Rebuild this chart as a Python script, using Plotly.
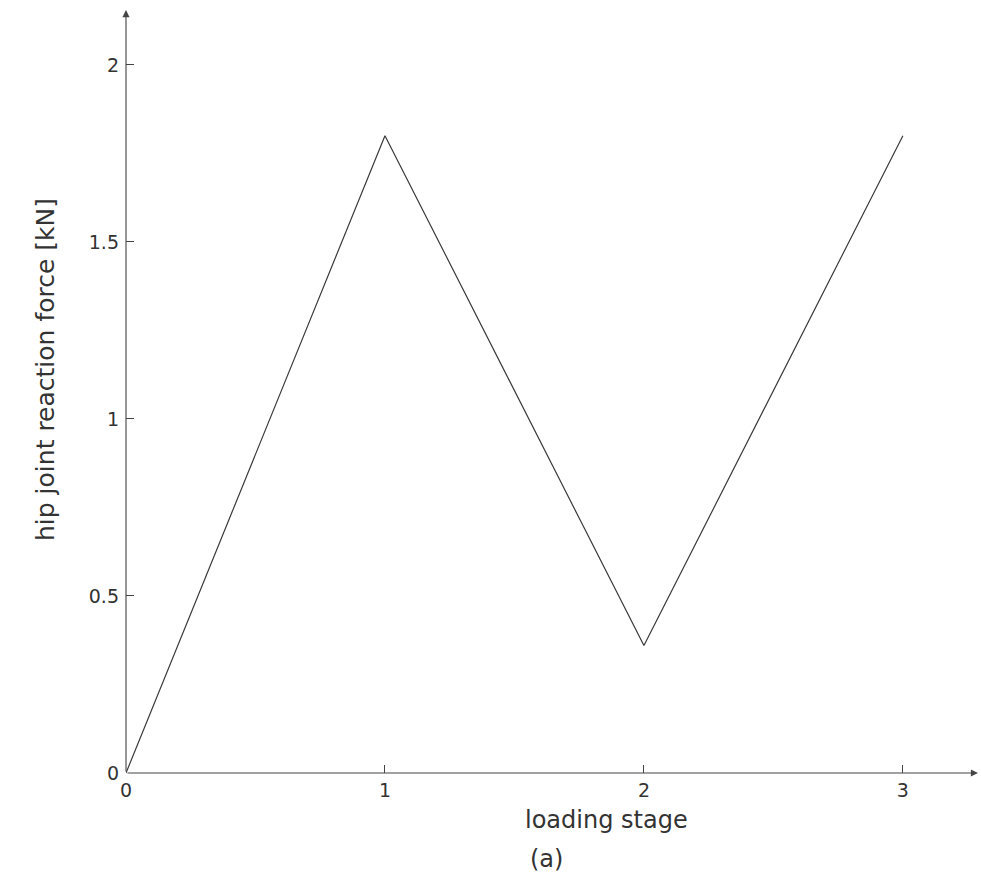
import plotly.graph_objects as go

stage = [0, 1, 2, 3]
force = [0, 1.8, 0.36, 1.8]
xticks = [0, 1, 2, 3]
yticks = [0, 0.5, 1, 1.5, 2]
ytick_text = ["0", "0.5", "1", "1.5", "2"]

XMAX = 3.29
YMAX = 2.155
axis_color = "#444444"
font_color = "#333333"
FONT = "DejaVu Sans"

fig = go.Figure()
fig.add_trace(go.Scatter(x=stage, y=force, mode="lines",
                         line=dict(color="#3a3a3a", width=1.2),
                         showlegend=False, hoverinfo="skip"))

fig.update_layout(
    width=981, height=886,
    margin=dict(l=126, r=3, t=10, b=113),
    paper_bgcolor="white", plot_bgcolor="white",
    font=dict(family=FONT, color=font_color),
    xaxis=dict(range=[0, XMAX], tickvals=xticks, ticktext=[str(v) for v in xticks],
               ticks="inside", ticklen=8, tickcolor=axis_color, tickwidth=1,
               showgrid=False, zeroline=False, showline=False,
               tickfont=dict(size=19, color=font_color, family=FONT),
               ticklabelstandoff=4),
    yaxis=dict(range=[0, YMAX], tickvals=yticks, ticktext=ytick_text,
               ticks="inside", ticklen=8, tickcolor=axis_color, tickwidth=1,
               showgrid=False, zeroline=False, showline=False,
               tickfont=dict(size=19, color=font_color, family=FONT),
               ticklabelstandoff=6),
)

# axes with arrows
fig.add_annotation(x=XMAX, y=0, ax=0, ay=0, xref="x", yref="y", axref="x", ayref="y",
                   showarrow=True, arrowhead=2, arrowsize=1.3, arrowwidth=1.1,
                   arrowcolor=axis_color, text="")
fig.add_annotation(x=0, y=YMAX, ax=0, ay=0, xref="x", yref="y", axref="x", ayref="y",
                   showarrow=True, arrowhead=2, arrowsize=1.3, arrowwidth=1.1,
                   arrowcolor=axis_color, text="")

# titles (positioned in pixels relative to the plot area)
fig.add_annotation(x=0, xref="paper", xshift=606 - 126, xanchor="center",
                   y=0, yref="paper", yshift=-(820 - 773), yanchor="middle",
                   text="loading stage", showarrow=False,
                   font=dict(size=24, color=font_color, family=FONT))
fig.add_annotation(x=0, xref="paper", xshift=546 - 126, xanchor="center",
                   y=0, yref="paper", yshift=-(859 - 773), yanchor="middle",
                   text="(a)", showarrow=False,
                   font=dict(size=24, color=font_color, family=FONT))
fig.add_annotation(x=0, xref="paper", xshift=45 - 126, xanchor="center",
                   y=0, yref="paper", yshift=773 - 370, yanchor="middle",
                   text="hip joint reaction force [kN]", textangle=-90,
                   showarrow=False, font=dict(size=25, color=font_color, family=FONT))

fig.write_html("out.html")
